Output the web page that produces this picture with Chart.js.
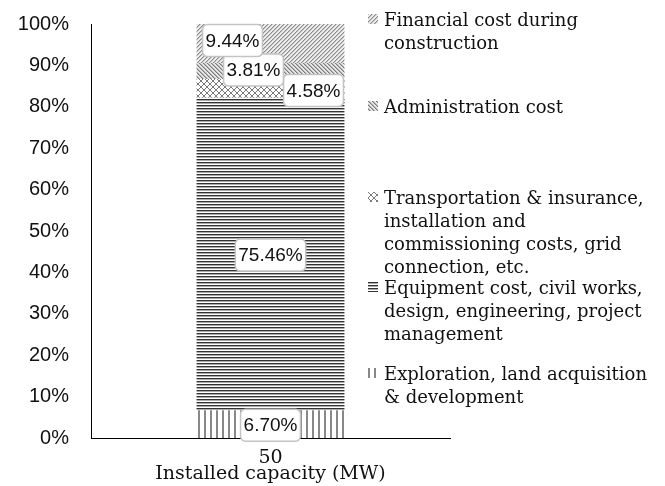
<!DOCTYPE html>
<html>
<head>
<meta charset="utf-8">
<script src="https://cdn.jsdelivr.net/npm/chart.js@4.4.1/dist/chart.umd.min.js"></script>
<style>
  html, body { margin: 0; padding: 0; background: #fff; }
  #wrap { position: relative; width: 665px; height: 486px; }
  #costChart { position: absolute; left: 0; top: 0; }
  #legend { position: absolute; left: 0; top: 0; width: 665px; height: 486px; pointer-events: none; }
  .legend-item { position: absolute; left: 366px; font-family: "DejaVu Serif", "Liberation Serif", serif; font-size: 18px; line-height: 23px; color: #111; white-space: pre; }
  .legend-item canvas { position: absolute; left: 2px; top: 6px; }
  .legend-item span { display: block; margin-left: 18px; }
</style>
</head>
<body>
<div id="wrap">
  <canvas id="costChart" width="665" height="486"></canvas>
  <div id="legend"></div>
</div>
<script>
// category on the x axis
const capacityLabels = ["50"];

// share of total installed cost, percent (bottom to top of the stack)
const explorationShare = [6.70];
const equipmentShare = [75.46];
const transportShare = [4.58];
const adminShare = [3.81];
const financialShare = [9.44];

// series names, legend lines split the same way as the picture
const seriesNames = [
    "Exploration, land acquisition\n& development",
    "Equipment cost, civil works,\ndesign, engineering, project\nmanagement",
    "Transportation & insurance,\ninstallation and\ncommissioning costs, grid\nconnection, etc.",
    "Administration cost",
    "Financial cost during\nconstruction"
];

const yTickValues = [0, 10, 20, 30, 40, 50, 60, 70, 80, 90, 100];

// build a hatch fill for each series
function makePattern(kind) {
    const c = document.createElement("canvas");
    const g = c.getContext("2d");
    if (kind === "vertical") {
        c.width = 6; c.height = 6;
        g.fillStyle = "#fff"; g.fillRect(0, 0, 6, 6);
        g.fillStyle = "#888"; g.fillRect(0, 0, 2, 6);
    } else if (kind === "horizontal") {
        c.width = 3; c.height = 3;
        g.fillStyle = "#fff"; g.fillRect(0, 0, 3, 3);
        g.fillStyle = "#333"; g.fillRect(0, 0, 3, 1);
        g.fillStyle = "#aaa"; g.fillRect(0, 1, 3, 1);
    } else if (kind === "cross") {
        c.width = 6; c.height = 6;
        g.fillStyle = "#fff"; g.fillRect(0, 0, 6, 6);
        g.strokeStyle = "#7a7a7a"; g.lineWidth = 1;
        g.beginPath();
        g.moveTo(0, 0); g.lineTo(6, 6);
        g.moveTo(6, 0); g.lineTo(0, 6);
        g.stroke();
    } else if (kind === "backslash") {
        c.width = 4; c.height = 4;
        g.fillStyle = "#e6e6e6"; g.fillRect(0, 0, 4, 4);
        g.fillStyle = "#7a7a7a";
        for (let i = 0; i < 4; i++) g.fillRect(i, i, 1, 1);
        g.fillStyle = "#b4b4b4";
        for (let i = 0; i < 4; i++) g.fillRect((i + 1) % 4, i, 1, 1);
    } else {
        c.width = 4; c.height = 4;
        g.fillStyle = "#eee"; g.fillRect(0, 0, 4, 4);
        g.fillStyle = "#8a8a8a";
        for (let i = 0; i < 4; i++) g.fillRect(3 - i, i, 1, 1);
        g.fillStyle = "#c4c4c4";
        for (let i = 0; i < 4; i++) g.fillRect((4 - i) % 4, i, 1, 1);
    }
    return c;
}

const patternKinds = ["vertical", "horizontal", "cross", "backslash", "slash"];
const mainCtx = document.getElementById("costChart").getContext("2d");
const fills = patternKinds.map(k => mainCtx.createPattern(makePattern(k), "repeat"));

// label box offsets from the segment centre (some labels are nudged sideways)
const labelOffsets = [[0, 1], [0, 1], [43, 2], [-17, -1], [-38, -3]];

const segmentLabels = {
    id: "segmentLabels",
    afterDatasetsDraw(chart) {
        const ctx = chart.ctx;
        ctx.save();
        ctx.font = "19px 'Liberation Sans', Arial, sans-serif";
        ctx.textAlign = "center";
        ctx.textBaseline = "middle";
        chart.data.datasets.forEach((ds, i) => {
            const meta = chart.getDatasetMeta(i);
            meta.data.forEach((bar, j) => {
                const text = ds.data[j].toFixed(2) + "%";
                const cx = bar.x + labelOffsets[i][0];
                const cy = (bar.y + bar.base) / 2 + labelOffsets[i][1];
                const w = ctx.measureText(text).width + 6;
                const h = 32;
                ctx.beginPath();
                ctx.roundRect(cx - w / 2, cy - h / 2, w, h, 5);
                ctx.fillStyle = "#fff";
                ctx.fill();
                ctx.lineWidth = 1.5;
                ctx.strokeStyle = "#c4c4c4";
                ctx.stroke();
                ctx.fillStyle = "#111";
                ctx.fillText(text, cx, cy + 1);
            });
        });
        ctx.restore();
    }
};

const seriesData = [explorationShare, equipmentShare, transportShare, adminShare, financialShare];

const chartObject = new Chart(mainCtx, {
    type: "bar",
    data: {
        labels: capacityLabels,
        datasets: seriesData.map((vals, i) => ({
            label: seriesNames[i].replace(/\n/g, " "),
            data: vals,
            backgroundColor: fills[i],
            borderWidth: 0,
            categoryPercentage: 1,
            barPercentage: 0.412
        }))
    },
    options: {
        responsive: false,
        animation: false,
        layout: { padding: { top: 24, left: 0, right: 215, bottom: 0 } },
        plugins: {
            legend: { display: false },
            tooltip: { enabled: false }
        },
        scales: {
            x: {
                stacked: true,
                grid: { display: false, drawTicks: false },
                border: { display: true, color: "#000", width: 1 },
                ticks: {
                    color: "#111",
                    padding: 9,
                    font: { family: "'DejaVu Serif', 'Liberation Serif', serif", size: 19 }
                },
                title: {
                    display: true,
                    text: "Installed capacity (MW)",
                    color: "#111",
                    padding: { top: 0, bottom: 1 },
                    font: { family: "'DejaVu Serif', 'Liberation Serif', serif", size: 19 }
                },
                afterFit(scale) { scale.height = 48; }
            },
            y: {
                stacked: true,
                min: 0,
                max: 100,
                afterBuildTicks(scale) { scale.ticks = yTickValues.map(v => ({ value: v })); },
                grid: { display: false, drawTicks: false },
                border: { display: true, color: "#000", width: 1 },
                ticks: {
                    color: "#111",
                    padding: 22,
                    font: { family: "'Liberation Sans', Arial, sans-serif", size: 20 },
                    callback: v => v + "%"
                },
                afterFit(scale) {
                    scale.width = 91;
                    scale.paddingTop = 0;
                    scale.paddingBottom = 0;
                }
            }
        }
    },
    plugins: [segmentLabels]
});

// legend on the right, top series first
const legendTops = [362, 276, 186, 95, 8];
const legendBox = document.getElementById("legend");
for (let i = seriesNames.length - 1; i >= 0; i--) {
    const item = document.createElement("div");
    item.className = "legend-item";
    item.style.top = legendTops[i] + "px";
    const sw = document.createElement("canvas");
    sw.width = 10; sw.height = 10;
    const sctx = sw.getContext("2d");
    sctx.fillStyle = sctx.createPattern(makePattern(patternKinds[i]), "repeat");
    sctx.fillRect(0, 0, 10, 10);
    item.appendChild(sw);
    const span = document.createElement("span");
    span.textContent = seriesNames[i];
    item.appendChild(span);
    legendBox.appendChild(item);
}
</script>
</body>
</html>
